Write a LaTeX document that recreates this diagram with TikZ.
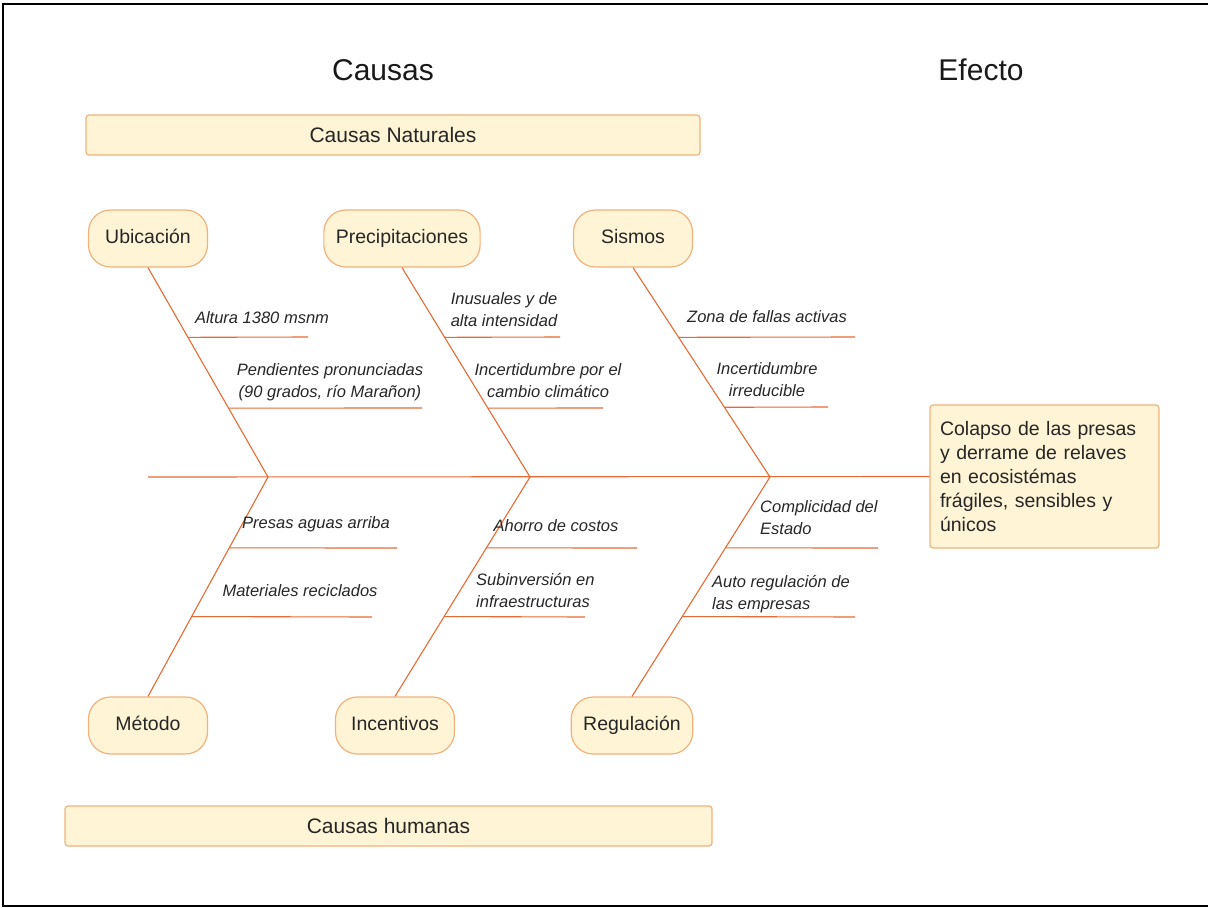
\documentclass[tikz,border=0pt]{standalone}
\usepackage{fontspec}
\setmainfont{Liberation Sans}
\usetikzlibrary{calc}
\definecolor{espina}{HTML}{E66A34}
\definecolor{crema}{HTML}{FFF5D6}
\definecolor{borde}{HTML}{F0B27A}
\begin{document}
\begin{tikzpicture}[x=1pt,y=-1pt,
    causa/.style={draw=borde, fill=crema, line width=1.2pt, rounded corners=22pt,
      minimum width=119pt, minimum height=57pt, inner xsep=12pt,
      text height=1em, text depth=0em,
      text=black!85, font=\fontsize{19.5}{23}\selectfont},
    banda/.style={draw=borde, fill=crema, line width=1.2pt, rounded corners=3pt,
      minimum height=40pt, text=black!85, font=\fontsize{21}{25}\selectfont},
    rama/.style={draw=espina, line width=1.1pt},
    nota/.style={inner sep=0pt, text=black!85, font=\fontsize{16.5}{22}\selectfont\itshape},
    titulo/.style={text=black!90, font=\fontsize{30}{36}\selectfont}]
  \useasboundingbox (0,0) rectangle (1208,908);
  % Marco
  \draw[line width=2.5pt] (1208,4) -- (3,4) -- (3,906) -- (1208,906);
  % Titulos
  \node[titulo] (causas) at (383,70) {Causas};
  \node[titulo] (efecto) at (981,70) {Efecto};
  \node[banda, minimum width=614pt] (naturales) at (393,135) {Causas Naturales};
  \node[banda, minimum width=647pt] (humanas) at (388.5,826) {Causas humanas};
  % Causas
  \node[causa] (ubicacion) at (148,238.5) {Ubicación};
  \node[causa] (precipitaciones) at (402,238.5) {Precipitaciones};
  \node[causa] (sismos) at (633,238.5) {Sismos};
  \node[causa] (metodo) at (148,725.5) {Método};
  \node[causa] (incentivos) at (395,725.5) {Incentivos};
  \node[causa] (regulacion) at (632,725.5) {Regulación};
  % Efecto
  \node[draw=borde, fill=crema, line width=1.2pt, rounded corners=3pt,
    minimum width=229pt, minimum height=143pt, text width=209pt, align=left,
    text=black!85, font=\fontsize{19.5}{24}\selectfont] (colapso) at (1044.5,476.5)
    {Colapso de las presas\\y derrame de relaves\\en ecosistémas\\frágiles, sensibles y\\únicos};
  % Espina
  \coordinate (cola) at (148,477);
  \coordinate (j1) at (268,477);
  \coordinate (j2) at (530,477);
  \coordinate (j3) at (770,477);
  \draw[rama] (cola) -- (colapso.west);
  \draw[rama] (ubicacion.south) -- (j1) -- (metodo.north);
  \draw[rama] (precipitaciones.south) -- (j2) -- (incentivos.north);
  \draw[rama] (sismos.south) -- (j3) -- (regulacion.north);
  % Ubicacion
  \draw[rama] ($(ubicacion.south)!0.333!(j1)$) -- (308,337);
  \draw[rama] ($(ubicacion.south)!0.671!(j1)$) -- (422,408);
  \node[nota] (altura) at (262,318) {Altura 1380 msnm};
  \node[nota, align=center] (pendientes) at (330,382) {Pendientes pronunciadas\\(90 grados, río Marañon)};
  % Precipitaciones
  \draw[rama] ($(precipitaciones.south)!0.333!(j2)$) -- (560,337);
  \draw[rama] ($(precipitaciones.south)!0.671!(j2)$) -- (603,408);
  \node[nota, align=left] (inusuales) at (504,310) {Inusuales y de\\alta intensidad};
  \node[nota, align=center] (clima) at (548,381) {Incertidumbre por el\\cambio climático};
  % Sismos
  \draw[rama] ($(sismos.south)!0.333!(j3)$) -- (855,337);
  \draw[rama] ($(sismos.south)!0.667!(j3)$) -- (828,407);
  \node[nota] (fallas) at (767,317) {Zona de fallas activas};
  \node[nota, align=center] (irreducible) at (767,380) {Incertidumbre\\irreducible};
  % Metodo
  \draw[rama] ($(j1)!0.323!(metodo.north)$) -- (397,548);
  \draw[rama] ($(j1)!0.636!(metodo.north)$) -- (372,617);
  \node[nota] (presas) at (316,524) {Presas aguas arriba};
  \node[nota] (materiales) at (300,591) {Materiales reciclados};
  % Incentivos
  \draw[rama] ($(j2)!0.323!(incentivos.north)$) -- (637,548);
  \draw[rama] ($(j2)!0.636!(incentivos.north)$) -- (585,617);
  \node[nota] (ahorro) at (556,526) {Ahorro de costos};
  \node[nota, align=left, anchor=west] (subinversion) at (476,590) {Subinversión en\\infraestructuras};
  % Regulacion
  \draw[rama] ($(j3)!0.323!(regulacion.north)$) -- (878,548);
  \draw[rama] ($(j3)!0.636!(regulacion.north)$) -- (855,617);
  \node[nota, align=left, anchor=west] (complicidad) at (760,518) {Complicidad del\\Estado};
  \node[nota, align=left, anchor=west] (autorregulacion) at (712,594) {Auto regulación de\\las empresas};
\end{tikzpicture}
\end{document}
